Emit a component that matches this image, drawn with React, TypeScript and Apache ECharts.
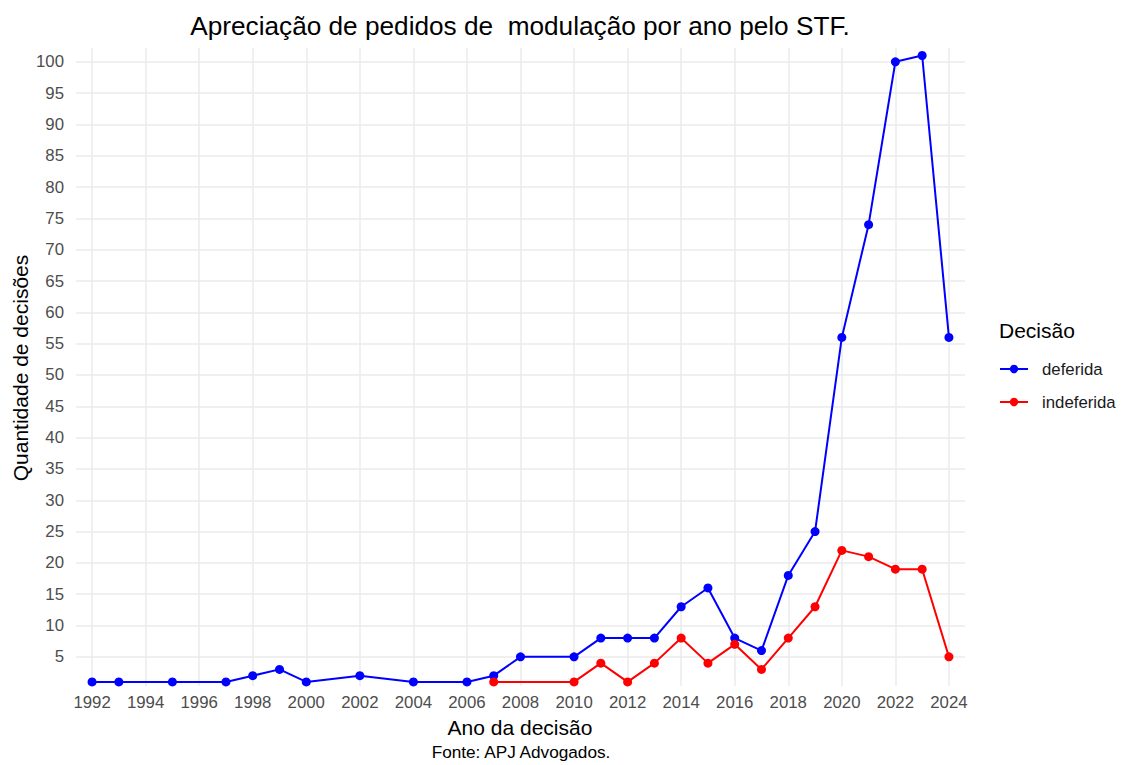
import React, { useEffect, useRef } from "react";
import * as echarts from "echarts";

const TITLE = "Apreciação de pedidos de  modulação por ano pelo STF.";
const X_NAME = "Ano da decisão";
const Y_NAME = "Quantidade de decisões";
const CAPTION = "Fonte: APJ Advogados.";
const LEGEND_TITLE = "Decisão";

const DEFERIDA_YEARS = [1992, 1993, 1995, 1997, 1998, 1999, 2000, 2002, 2004, 2006, 2007, 2008, 2010, 2011, 2012, 2013, 2014, 2015, 2016, 2017, 2018, 2019, 2020, 2021, 2022, 2023, 2024];
const DEFERIDA_VALUES = [1, 1, 1, 1, 2, 3, 1, 2, 1, 1, 2, 5, 5, 8, 8, 8, 13, 16, 8, 6, 18, 25, 56, 74, 100, 101, 56];

const INDEFERIDA_YEARS = [2007, 2010, 2011, 2012, 2013, 2014, 2015, 2016, 2017, 2018, 2019, 2020, 2021, 2022, 2023, 2024];
const INDEFERIDA_VALUES = [1, 1, 4, 1, 4, 8, 4, 7, 3, 8, 13, 22, 21, 19, 19, 5];

const X_TICKS = [1992, 1994, 1996, 1998, 2000, 2002, 2004, 2006, 2008, 2010, 2012, 2014, 2016, 2018, 2020, 2022, 2024];
const Y_TICKS = [5, 10, 15, 20, 25, 30, 35, 40, 45, 50, 55, 60, 65, 70, 75, 80, 85, 90, 95, 100];

const SERIES_NAMES = ["deferida", "indeferida"];
const SERIES_COLORS = ["#0000ff", "#ff0000"];

const FONT = "Liberation Sans";

export default function App() {
  const ref = useRef<HTMLDivElement>(null);
  useEffect(() => {
    if (!ref.current) return;
    const chart = echarts.init(ref.current, null, { renderer: "svg" });
    const pair = (xs: number[], ys: number[]) => xs.map((x, i) => [x, ys[i]]);

    const legendItems: any[] = [];
    SERIES_NAMES.forEach((name, i) => {
      const y = 369 + i * 33;
      legendItems.push(
        { type: "line", shape: { x1: 1000, y1: y, x2: 1028, y2: y }, style: { stroke: SERIES_COLORS[i], lineWidth: 2 } },
        { type: "circle", shape: { cx: 1014, cy: y, r: 4.2 }, style: { fill: SERIES_COLORS[i] } },
        {
          type: "text",
          x: 1042,
          y,
          style: { text: name, fontFamily: FONT, fontSize: 16.8, fill: "#1a1a1a", textVerticalAlign: "middle", textAlign: "left" },
        }
      );
    });

    chart.setOption({
      animation: false,
      backgroundColor: "#ffffff",
      textStyle: { fontFamily: FONT },
      grid: { left: 76, right: 160, top: 48, bottom: 79, containLabel: false },
      xAxis: {
        type: "value",
        min: 1991.4,
        max: 2024.6,
        axisLine: { show: false },
        axisTick: { show: false, customValues: X_TICKS },
        axisLabel: {
          customValues: X_TICKS,
          fontFamily: FONT,
          fontSize: 16.8,
          color: "#4d4d4d",
          margin: 8,
          formatter: (v: number) => String(v),
        },
        splitLine: { show: true, lineStyle: { color: "#ebebeb", width: 1.5 } },
      },
      yAxis: {
        type: "value",
        min: 0.35,
        max: 102.2,
        axisLine: { show: false },
        axisTick: { show: false, customValues: Y_TICKS },
        axisLabel: {
          customValues: Y_TICKS,
          fontFamily: FONT,
          fontSize: 16.8,
          color: "#4d4d4d",
          margin: 12,
        },
        splitLine: { show: true, lineStyle: { color: "#ebebeb", width: 1.5 } },
      },
      graphic: [
        {
          type: "text",
          x: 520,
          y: 26,
          style: { text: TITLE, fontFamily: FONT, fontSize: 26.2, fill: "#000000", textAlign: "center", textVerticalAlign: "middle" },
        },
        {
          type: "text",
          x: 520,
          y: 727,
          style: { text: X_NAME, fontFamily: FONT, fontSize: 21, fill: "#000000", textAlign: "center", textVerticalAlign: "middle" },
        },
        {
          type: "text",
          x: 20,
          y: 368,
          rotation: Math.PI / 2,
          style: { text: Y_NAME, fontFamily: FONT, fontSize: 21, fill: "#000000", textAlign: "center", textVerticalAlign: "middle" },
        },
        {
          type: "text",
          x: 521,
          y: 752,
          style: { text: CAPTION, fontFamily: FONT, fontSize: 17.2, fill: "#000000", textAlign: "center", textVerticalAlign: "middle" },
        },
        {
          type: "text",
          x: 999,
          y: 330,
          style: { text: LEGEND_TITLE, fontFamily: FONT, fontSize: 21, fill: "#000000", textAlign: "left", textVerticalAlign: "middle" },
        },
        ...legendItems,
      ],
      series: [
        {
          name: SERIES_NAMES[0],
          type: "line",
          data: pair(DEFERIDA_YEARS, DEFERIDA_VALUES),
          symbol: "circle",
          symbolSize: 9,
          color: SERIES_COLORS[0],
          lineStyle: { color: SERIES_COLORS[0], width: 2 },
          itemStyle: { color: SERIES_COLORS[0] },
        },
        {
          name: SERIES_NAMES[1],
          type: "line",
          data: pair(INDEFERIDA_YEARS, INDEFERIDA_VALUES),
          symbol: "circle",
          symbolSize: 9,
          color: SERIES_COLORS[1],
          lineStyle: { color: SERIES_COLORS[1], width: 2 },
          itemStyle: { color: SERIES_COLORS[1] },
        },
      ],
    });
    return () => chart.dispose();
  }, []);
  return <div ref={ref} style={{ width: 1125, height: 765, position: "absolute", left: 0, top: 0 }} />;
}
